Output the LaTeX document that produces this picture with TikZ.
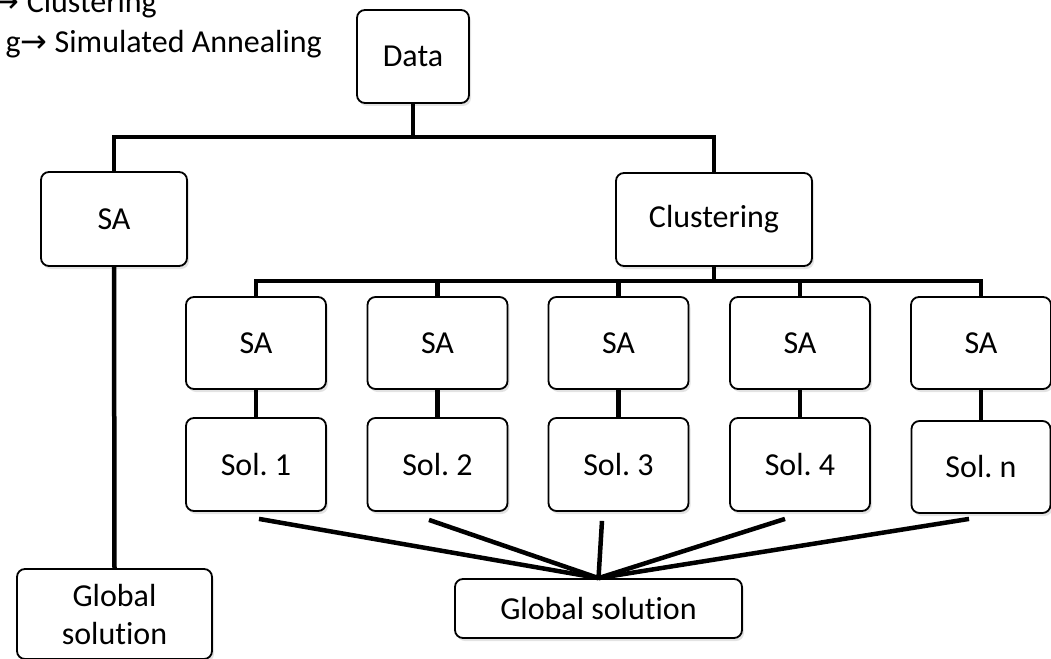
\documentclass[tikz,border=0pt]{standalone}
\usepackage{fontspec}
\setmainfont[Ligatures=NoCommon]{Carlito}
\newfontfamily\arrowfont{DejaVu Sans}
\usetikzlibrary{shadows}
\newcommand{\rarr}{{\arrowfont →}}
\begin{document}
\frenchspacing
\begin{tikzpicture}[x=1pt,y=-1pt,
  box/.style={draw=black, line width=1.8pt, rounded corners=8pt, fill=white,
    inner sep=0pt, align=center, font=\fontsize{32}{38}\selectfont,
    drop shadow={opacity=0.22, shadow xshift=2pt, shadow yshift=-3pt}},
  link/.style={line width=4.5pt, line join=miter},
  lbl/.style={inner sep=0pt, font=\fontsize{32}{38}\selectfont}]
\useasboundingbox (0,0) rectangle (1051,658);
% clipped caption lines
\node[lbl, anchor=base east] (cap1) at (157,13) {\rarr\ Clustering};
\node[lbl, anchor=base east] (cap2) at (322,53) {g\rarr\ Simulated Annealing};
% nodes
\node[box, minimum width=112pt, minimum height=93pt] (data) at (413,56.5) {Data};
\node[box, minimum width=146pt, minimum height=94pt] (saL) at (114,219) {SA};
\node[box, minimum width=196pt, minimum height=93pt] (clus) at (714,219.5) {Clustering};
\foreach \i/\x in {1/256,2/437.5,3/618.5,4/800,5/981}{
  \node[box, minimum width=140pt, minimum height=92pt] (sa\i) at (\x,343) {SA};
}
\foreach \i/\x/\t in {1/256/Sol. 1,2/437.5/Sol. 2,3/618.5/Sol. 3,4/800/Sol. 4}{
  \node[box, minimum width=140pt, minimum height=93pt] (sol\i) at (\x,464.5) {\t};
}
\node[box, minimum width=139pt, minimum height=92pt] (sol5) at (981,467) {Sol. n};
\node[box, minimum width=195pt, minimum height=90pt] (globL) at (114.5,614) {Global\\solution};
\node[box, minimum width=287pt, minimum height=59pt] (globR) at (598.5,608.5) {Global solution};
% junctions
\coordinate (j1) at (413,137);
\coordinate (j2) at (714,281);
% connectors
\draw[link] (data.south) -- (j1);
\draw[link] (saL.north) |- (j1) -| (clus.north);
\draw[link] (saL.south) -- (globL.north);
\draw[link] (clus.south) -- (j2);
\draw[link] (sa1.north) |- (j2) -| (sa5.north);
\foreach \i in {2,3,4}{ \draw[link] (sa\i.north) -- (sa\i.north |- j2); }
\foreach \i in {1,2,3,4,5}{ \draw[link] (sa\i.south) -- (sol\i.north); }
\draw[link] ([xshift=3pt,yshift=-7pt]sol1.south) -- (globR.north);
\draw[link] ([xshift=-8.5pt,yshift=-8pt]sol2.south) -- (globR.north);
\draw[link] ([xshift=-16.5pt,yshift=-9pt]sol3.south) -- (globR.north);
\draw[link] ([xshift=-15pt,yshift=-7pt]sol4.south) -- (globR.north);
\draw[link] ([xshift=-12pt,yshift=-5pt]sol5.south) -- (globR.north);
\end{tikzpicture}
\end{document}
